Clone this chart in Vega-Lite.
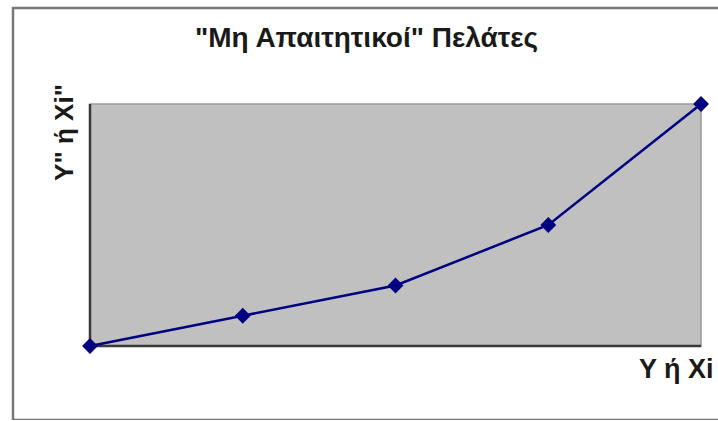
{
  "$schema": "https://vega.github.io/schema/vega-lite/v6.json",
  "width": 707,
  "height": 412,
  "autosize": {"type": "none"},
  "padding": {"left": 13, "top": 8, "right": 0, "bottom": 0},
  "background": "white",
  "config": {
    "view": {"stroke": "#777777", "strokeWidth": 2.5, "fill": "white"},
    "font": "Liberation Sans",
    "axis": {
      "domain": false,
      "ticks": false,
      "labels": false,
      "grid": false,
      "titleFont": "Liberation Sans",
      "titleFontSize": 27,
      "titleFontWeight": "bold",
      "titleColor": "#1a1a1a"
    },
    "axisX": {
      "titleX": 700,
      "titleY": -43,
      "titleAlign": "right",
      "titleBaseline": "alphabetic"
    },
    "axisY": {
      "titleX": 51,
      "titleY": 124,
      "titleAngle": 270,
      "titleAlign": "center",
      "titleBaseline": "middle",
      "titleFontSize": 26
    }
  },
  "title": {
    "text": "\"Μη Απαιτητικοί\" Πελάτες",
    "frame": "group",
    "anchor": "middle",
    "offset": 0,
    "dy": 67,
    "baseline": "alphabetic",
    "font": "Liberation Sans",
    "fontSize": 28,
    "fontWeight": "bold",
    "color": "#1a1a1a"
  },
  "data": {
    "values": [
      {"x": 0, "y": 0},
      {"x": 1, "y": 1},
      {"x": 2, "y": 2},
      {"x": 3, "y": 4},
      {"x": 4, "y": 8}
    ]
  },
  "layer": [
    {
      "mark": {"type": "rect", "fill": "#c0c0c0", "stroke": "#9a9a9a", "strokeWidth": 1.5},
      "encoding": {
        "x": {"aggregate": "min", "field": "x", "type": "quantitative", "scale": {"domain": [-0.504, 4.124], "nice": false, "zero": false}, "axis": {"title": "Y ή Xi"}},
        "x2": {"aggregate": "max", "field": "x"},
        "y": {"aggregate": "min", "field": "y", "type": "quantitative", "scale": {"domain": [-2.446, 11.174], "nice": false, "zero": false}, "axis": {"title": "Y\" ή Xi\""}},
        "y2": {"aggregate": "max", "field": "y"}
      }
    },
    {
      "mark": {"type": "rule", "color": "#3a3a3a", "strokeWidth": 2.5},
      "encoding": {
        "x": {"aggregate": "min", "field": "x", "type": "quantitative", "scale": {"domain": [-0.504, 4.124], "nice": false, "zero": false}, "axis": {"title": "Y ή Xi"}},
        "y": {"aggregate": "min", "field": "y", "type": "quantitative", "scale": {"domain": [-2.446, 11.174], "nice": false, "zero": false}, "axis": {"title": "Y\" ή Xi\""}},
        "y2": {"aggregate": "max", "field": "y"}
      }
    },
    {
      "mark": {"type": "rule", "color": "#3a3a3a", "strokeWidth": 2.5},
      "encoding": {
        "x": {"aggregate": "min", "field": "x", "type": "quantitative", "scale": {"domain": [-0.504, 4.124], "nice": false, "zero": false}, "axis": {"title": "Y ή Xi"}},
        "x2": {"aggregate": "max", "field": "x"},
        "y": {"aggregate": "min", "field": "y", "type": "quantitative", "scale": {"domain": [-2.446, 11.174], "nice": false, "zero": false}, "axis": {"title": "Y\" ή Xi\""}}
      }
    },
    {
      "mark": {
        "type": "line",
        "color": "#000080",
        "strokeWidth": 2.5,
        "clip": false,
        "point": {"shape": "diamond", "size": 250, "filled": true, "color": "#000080", "opacity": 1}
      },
      "encoding": {
        "x": {"field": "x", "type": "quantitative", "scale": {"domain": [-0.504, 4.124], "nice": false, "zero": false}, "axis": {"title": "Y ή Xi"}},
        "y": {"field": "y", "type": "quantitative", "scale": {"domain": [-2.446, 11.174], "nice": false, "zero": false}, "axis": {"title": "Y\" ή Xi\""}}
      }
    }
  ]
}
